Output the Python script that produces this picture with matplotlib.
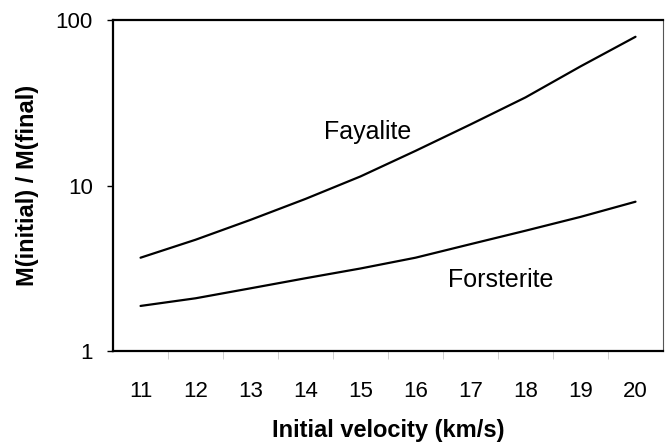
import numpy as np
import matplotlib
matplotlib.use("Agg")
from matplotlib import pyplot as plt
from matplotlib.ticker import FixedLocator, NullFormatter

plt.rcParams['font.family'] = ['Liberation Sans', 'DejaVu Sans']

# values (log y axis)
velocity = [11, 12, 13, 14, 15, 16, 17, 18, 19, 20]
fayalite = [3.66, 4.7, 6.2, 8.3, 11.35, 16.2, 23.4, 34.1, 52.5, 79.3]
forsterite = [1.87, 2.08, 2.39, 2.75, 3.15, 3.66, 4.42, 5.33, 6.46, 7.98]


def main():
    fig = plt.figure(figsize=(6.65, 4.47), dpi=100)
    ax = fig.add_axes([0.170, 0.215, 0.827, 0.740])

    ax.plot(velocity, fayalite, color='black', lw=1.6, solid_capstyle='round',
            solid_joinstyle='round')
    ax.plot(velocity, forsterite, color='black', lw=1.6, solid_capstyle='round',
            solid_joinstyle='round')

    ax.set_yscale('log')
    ax.set_ylim(1, 100)
    ax.set_xlim(10.5, 20.5)

    ax.set_yticks([1, 10, 100])
    ax.set_yticklabels(['1', '10', '100'])
    ax.yaxis.set_minor_formatter(NullFormatter())
    ax.tick_params(axis='y', which='minor', left=False)
    ax.tick_params(axis='y', which='major', direction='out', length=4.5,
                   width=1, pad=10, labelsize=16)

    ax.set_xticks(velocity)
    ax.set_xticklabels([str(v) for v in velocity])
    ax.xaxis.set_minor_locator(FixedLocator(np.arange(11.5, 20.5, 1.0)))
    ax.tick_params(axis='x', which='major', length=0, pad=22, labelsize=16)
    ax.tick_params(axis='x', which='minor', direction='out', length=6,
                   width=0.6, color='#c8c8c8')

    for side in ['left', 'top', 'bottom']:
        ax.spines[side].set_linewidth(1.6)
        ax.spines[side].set_color('black')
    ax.spines['right'].set_linewidth(0.8)
    ax.spines['right'].set_color('#555555')

    ax.set_xlabel('Initial velocity (km/s)', fontsize=17, fontweight='bold',
                  labelpad=12)
    ax.set_ylabel('M(initial) / M(final)', fontsize=17, fontweight='bold',
                  labelpad=12)

    ax.text(15.12, 21, 'Fayalite', fontsize=18, ha='center', va='center')
    ax.text(17.54, 2.69, 'Forsterite', fontsize=18, ha='center', va='center')

    fig.savefig('out.png', dpi=100)


if __name__ == '__main__':
    main()
